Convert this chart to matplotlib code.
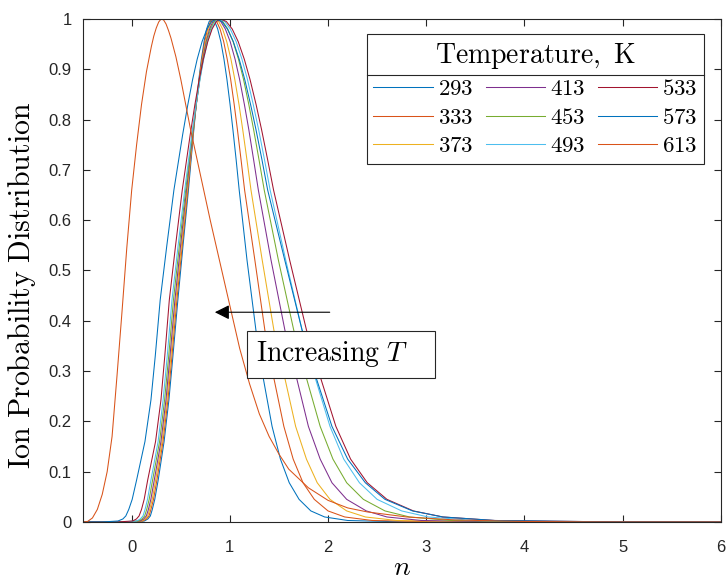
import matplotlib
matplotlib.use('Agg')
import matplotlib.pyplot as plt
from matplotlib.patches import Rectangle
from matplotlib.lines import Line2D

plt.rcParams['mathtext.fontset'] = 'cm'
plt.rcParams['font.family'] = ['Liberation Sans', 'DejaVu Sans']

temps = [293, 333, 373, 413, 453, 493, 533, 573, 613]
colors = ['#0072BD', '#D95319', '#EDB120', '#7E2F8E', '#77AC30',
          '#4DBEEE', '#A2142F', '#0072BD', '#D95319']

# probability levels shared by the 293..573 K curves: flat start, rise, peak, fall, flat end
rise_p = [0, 0.002, 0.006, 0.012, 0.025, 0.045, 0.0835, 0.16, 0.2426, 0.33, 0.441,
          0.55, 0.66, 0.77, 0.83, 0.88, 0.92, 0.955, 0.98, 0.995, 1.0]
fall_p = [0.995, 0.98, 0.955, 0.92, 0.88, 0.83, 0.78, 0.72, 0.66, 0.52, 0.382,
          0.286, 0.19, 0.125, 0.078, 0.045, 0.022, 0.01, 0.003, 0]
levels = [0] + rise_p + fall_p + [0]

# n at which each curve crosses those levels
rise_293 = [0.0, 0.13, 0.165, 0.19, 0.21, 0.235, 0.27, 0.33, 0.379, 0.42, 0.47, 0.523, 0.578,
            0.628, 0.658, 0.684, 0.71, 0.737, 0.763, 0.789, 0.815]
rise_333 = [-0.02, 0.115, 0.15, 0.176, 0.196, 0.222, 0.257, 0.319, 0.369, 0.41, 0.46, 0.515, 0.572,
            0.625, 0.657, 0.687, 0.715, 0.744, 0.773, 0.802, 0.83]
rise_373 = [-0.04, 0.10, 0.137, 0.163, 0.183, 0.209, 0.244, 0.309, 0.359, 0.40, 0.45, 0.507, 0.565,
            0.623, 0.658, 0.69, 0.72, 0.752, 0.784, 0.814, 0.845]
rise_413 = [-0.06, 0.085, 0.122, 0.149, 0.17, 0.195, 0.23, 0.298, 0.349, 0.39, 0.44, 0.498, 0.558,
            0.621, 0.658, 0.693, 0.725, 0.759, 0.794, 0.827, 0.86]
rise_453 = [-0.08, 0.068, 0.105, 0.132, 0.153, 0.178, 0.213, 0.284, 0.335, 0.377, 0.425, 0.486, 0.55,
            0.617, 0.657, 0.694, 0.729, 0.766, 0.804, 0.839, 0.875]
rise_493 = [-0.1, 0.05, 0.088, 0.115, 0.136, 0.161, 0.196, 0.269, 0.32, 0.362, 0.41, 0.473, 0.54,
            0.612, 0.656, 0.696, 0.733, 0.773, 0.813, 0.852, 0.89]
rise_533 = [-0.15, 0.01, 0.048, 0.075, 0.10, 0.127, 0.163, 0.243, 0.298, 0.337, 0.383, 0.447, 0.515,
            0.596, 0.644, 0.688, 0.73, 0.775, 0.819, 0.862, 0.905]
rise_573 = [-0.3, -0.14, -0.09, -0.06, -0.03, 0.005, 0.05, 0.135, 0.196, 0.24, 0.29, 0.358, 0.43,
            0.519, 0.572, 0.621, 0.667, 0.717, 0.766, 0.813, 0.86]

fall_293 = [0.846, 0.876, 0.908, 0.94, 0.97, 1.002, 1.031, 1.064, 1.095,
            1.175, 1.265, 1.34, 1.43, 1.515, 1.605, 1.705, 1.825, 1.965, 2.2, 2.8]
fall_333 = [0.865, 0.90, 0.937, 0.973, 1.008, 1.044, 1.077, 1.114, 1.15,
            1.255, 1.356, 1.448, 1.55, 1.645, 1.745, 1.86, 2.0, 2.17, 2.45, 3.2]
fall_373 = [0.886, 0.926, 0.968, 1.011, 1.05, 1.093, 1.131, 1.174, 1.215,
            1.33, 1.448, 1.56, 1.67, 1.78, 1.89, 2.02, 2.19, 2.38, 2.7, 3.5]
fall_413 = [0.907, 0.954, 1.003, 1.053, 1.099, 1.148, 1.193, 1.242, 1.29,
            1.42, 1.56, 1.68, 1.80, 1.92, 2.04, 2.19, 2.39, 2.6, 2.95, 3.8]
fall_453 = [0.927, 0.979, 1.033, 1.088, 1.139, 1.193, 1.242, 1.297, 1.35,
            1.495, 1.65, 1.78, 1.92, 2.05, 2.19, 2.36, 2.58, 2.83, 3.25, 4.2]
fall_493 = [0.947, 1.004, 1.064, 1.123, 1.179, 1.238, 1.293, 1.353, 1.41,
            1.57, 1.735, 1.87, 2.02, 2.16, 2.32, 2.5, 2.75, 3.02, 3.5, 4.6]
fall_533 = [0.964, 1.024, 1.085, 1.147, 1.205, 1.267, 1.323, 1.385, 1.445,
            1.61, 1.78, 1.925, 2.08, 2.23, 2.4, 2.6, 2.87, 3.17, 3.7, 5.0]
fall_573 = [0.918, 0.975, 1.035, 1.095, 1.151, 1.211, 1.266, 1.327, 1.385,
            1.56, 1.735, 1.88, 2.04, 2.2, 2.38, 2.58, 2.86, 3.17, 3.7, 5.0]

# 613 K curve read point by point
n_613 = [-0.5, -0.45, -0.4, -0.35, -0.3, -0.25, -0.2, -0.15, -0.1, -0.05, 0.0, 0.05, 0.1, 0.15,
         0.2, 0.225, 0.25, 0.275, 0.3, 0.325, 0.35, 0.375, 0.4, 0.45, 0.5, 0.6, 0.7, 0.8, 0.9,
         1.0, 1.1, 1.2, 1.3, 1.4, 1.5, 1.6, 1.8, 2.0, 2.2, 2.4, 2.8, 3.3, 4.0, 5.0, 6.0]
p_613 = [0, 0.001, 0.008, 0.025, 0.055, 0.1, 0.17, 0.29, 0.415, 0.545, 0.66, 0.75, 0.83, 0.895,
         0.945, 0.966, 0.982, 0.994, 1.0, 0.998, 0.99, 0.977, 0.962, 0.925, 0.88, 0.78, 0.69, 0.60,
         0.515, 0.43, 0.345, 0.275, 0.215, 0.17, 0.135, 0.105, 0.068, 0.043, 0.028, 0.02, 0.01,
         0.004, 0.001, 0, 0]

rises = [rise_293, rise_333, rise_373, rise_413, rise_453, rise_493, rise_533, rise_573]
falls = [fall_293, fall_333, fall_373, fall_413, fall_453, fall_493, fall_533, fall_573]
curves_n = [[-0.5] + r + f + [6.0] for r, f in zip(rises, falls)] + [n_613]
curves_p = [levels] * 8 + [p_613]

fig = plt.figure(figsize=(7.26, 5.82), dpi=100)
ax = fig.add_axes([0.1138, 0.1031, 0.8789, 0.8643])

for t, c, xs, ys in zip(temps, colors, curves_n, curves_p):
    ax.plot(xs, ys, color=c, lw=0.75, label=r'$%d$' % t)

ax.set_xlim(-0.5, 6)
ax.set_ylim(0, 1)
ax.set_xticks(range(0, 7))
ax.set_yticks([i / 10 for i in range(11)])
ax.set_yticklabels(['0'] + ['0.%d' % i for i in range(1, 10)] + ['1'])
axc = '#262626'
ax.tick_params(direction='in', top=True, right=True, length=5, width=0.8,
               labelsize=12, colors=axc)
ax.tick_params(axis='x', pad=13)
ax.tick_params(axis='y', pad=8)
for s in ax.spines.values():
    s.set_color(axc)
    s.set_linewidth(0.8)

ax.set_xlabel(r'$n$', fontsize=20, labelpad=0)
ax.set_ylabel(r'$\mathrm{Ion\ Probability\ Distribution}$', fontsize=21.5)
ax.yaxis.set_label_coords(-0.07, 0.47)

leg = ax.legend(ncol=3, title=r'$\mathrm{Temperature,\ K}$', loc='upper right',
                bbox_to_anchor=(0.9743, 0.9696), fontsize=16.5, title_fontsize=20,
                frameon=True, fancybox=False, edgecolor=axc, framealpha=1,
                handlelength=2.6, handletextpad=0.2, columnspacing=0.55,
                labelspacing=0.25, borderpad=0.3, borderaxespad=0)
leg.get_frame().set_linewidth(0.8)
leg.set_zorder(10)

# arrow and text box
ax.annotate('', xy=(0.847, 0.417), xytext=(2.017, 0.417),
            arrowprops=dict(arrowstyle='-|>', color='k', lw=0.8,
                            mutation_scale=22, shrinkA=0, shrinkB=0))
ax.add_patch(Rectangle((1.176, 0.2857), 1.917, 0.0943, facecolor='white',
                       edgecolor=axc, lw=0.8, zorder=5))
ax.text(1.27, 0.333, r'$\mathrm{Increasing}\ T$', fontsize=20, va='center', ha='left', zorder=6)

# line under the legend title
fig.canvas.draw()
lb = leg.get_window_extent()
tb = leg.get_title().get_window_extent()
inv = fig.transFigure.inverted()
x0, y0 = inv.transform((lb.x0, tb.y0 - 4))
x1, _ = inv.transform((lb.x1, tb.y0 - 4))
fig.add_artist(Line2D([x0, x1], [y0, y0], color=axc, lw=0.8, zorder=20))

fig.savefig('out.png', dpi=100)
